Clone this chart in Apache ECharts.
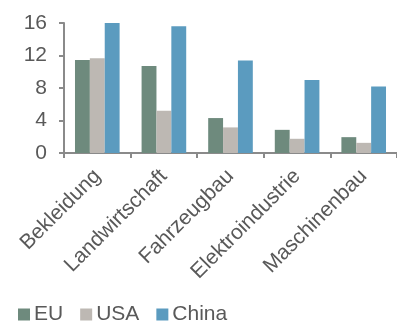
<!DOCTYPE html>
<html><head><meta charset="utf-8">
<script src="https://cdn.jsdelivr.net/npm/echarts@6/dist/echarts.min.js"></script>
<style>html,body{margin:0;padding:0;background:#fff}#c{width:397px;height:322px}</style>
</head><body><div id="c"></div>
<script>
var categories = ['Bekleidung','Landwirtschaft','Fahrzeugbau','Elektroindustrie','Maschinenbau'];
var seriesNames = ['EU','USA','China'];
var euValues = [11.45, 10.7, 4.3, 2.85, 1.95];
var usaValues = [11.65, 5.2, 3.15, 1.75, 1.25];
var chinaValues = [16.0, 15.6, 11.4, 9.0, 8.2];
var yTicks = [0, 4, 8, 12, 16];
var colors = ['#6e8a7d', '#bdb8b3', '#5b9bbf'];

var chart = echarts.init(document.getElementById('c'), null, {renderer:'canvas'});
var font = 'Liberation Sans, Arial, sans-serif';
function mk(name, data, i){
  return {name:name, type:'bar', data:data, barGap:'0%', barCategoryGap:'33%',
    itemStyle:{color:colors[i]}, animation:false};
}
chart.setOption({
  animation:false,
  textStyle:{fontFamily:font},
  grid:{left:64, right:0, top:23, bottom:169, containLabel:false},
  legend:{left:18, top:304, padding:0, itemWidth:12, itemHeight:12, itemGap:17,
    icon:'rect',
    textStyle:{fontSize:21, color:'#595959', fontFamily:font, padding:[0,0,0,-1]},
    data:seriesNames},
  xAxis:{type:'category', data:categories, boundaryGap:true,
    axisLine:{lineStyle:{color:'#8a8a8a', width:2}},
    axisTick:{show:true, alignWithLabel:false, length:5, lineStyle:{color:'#8a8a8a', width:2}},
    axisLabel:{rotate:45, fontSize:21, color:'#595959', fontFamily:font, margin:20, interval:0}},
  yAxis:{type:'value', min:yTicks[0], max:yTicks[yTicks.length-1], interval:4,
    splitLine:{show:false},
    axisLine:{show:true, lineStyle:{color:'#8a8a8a', width:2}},
    axisTick:{show:true, length:5, lineStyle:{color:'#8a8a8a', width:2}},
    axisLabel:{fontSize:21, color:'#595959', fontFamily:font, margin:17}},
  series:[mk(seriesNames[0], euValues, 0), mk(seriesNames[1], usaValues, 1), mk(seriesNames[2], chinaValues, 2)]
});
</script></body></html>
